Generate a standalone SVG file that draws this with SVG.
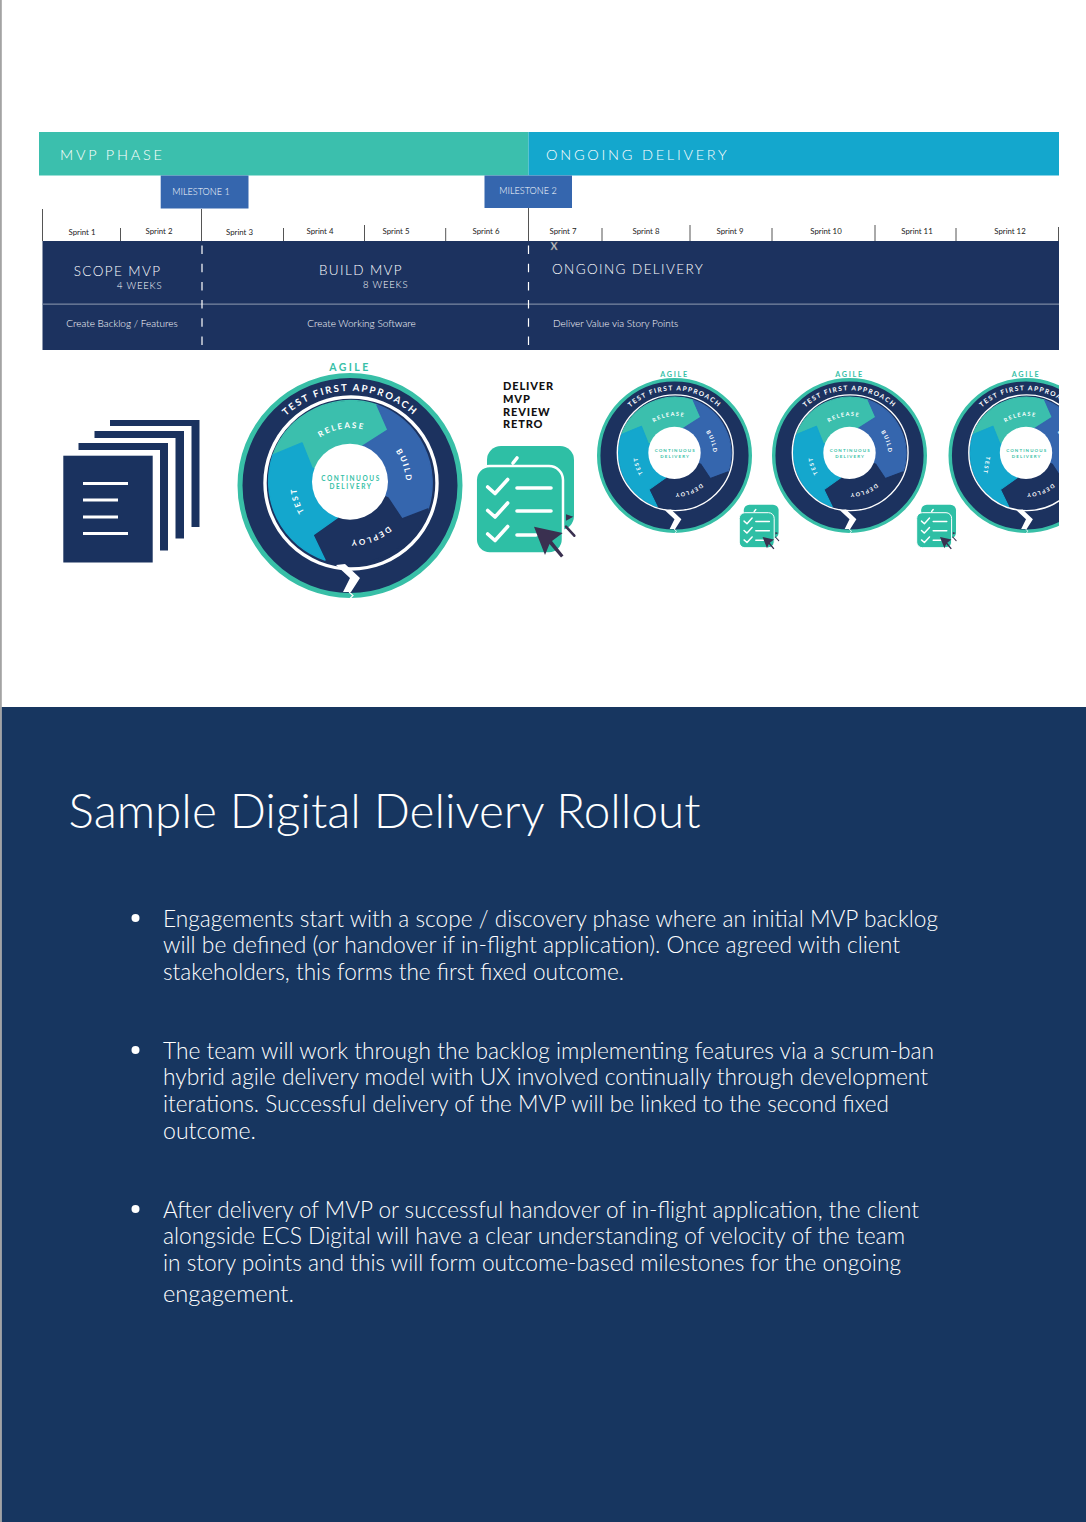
<svg xmlns="http://www.w3.org/2000/svg" width="1086" height="1522" viewBox="0 0 1086 1522">
<style>
text{font-family:"Lato","Open Sans","Liberation Sans",sans-serif}
.sp{font-size:7.8px;fill:#222;text-anchor:middle}
.tick{stroke:#555;stroke-width:1}
.dash{stroke:#fff;stroke-width:1.2;stroke-dasharray:8.5 9.7}
.hd{fill:#fff;font-size:13.5px;letter-spacing:1.4px;font-weight:300}
.sub{fill:#fff;font-size:9.5px;letter-spacing:.8px;font-weight:300}
.row{fill:#fff;font-size:10px;font-weight:300}
.ms{fill:#fff;font-size:9.1px;text-anchor:middle;font-weight:300}
.ag{fill:#38bfa7;font-size:10.5px;font-weight:700;letter-spacing:2.4px;text-anchor:middle}
.arc{fill:#fff;font-size:9.6px;font-weight:700;letter-spacing:1.95px;text-anchor:middle}
.seg{fill:#fff;font-size:8px;font-weight:700;letter-spacing:1.9px;text-anchor:middle}
.cd{fill:#38bfa7;font-size:6.5px;font-weight:700;letter-spacing:1.6px;text-anchor:middle}
.dv{fill:#111;font-size:11px;font-weight:900;letter-spacing:.85px}
.body{fill:#fff;font-size:23px;font-weight:300}
.ck{fill:none;stroke:#fff;stroke-width:3.6;stroke-linecap:round;stroke-linejoin:round}
.s{stroke-width:1.5;stroke-linejoin:round}
</style>
<defs>
<path id="pArc" d="M-94.6-8.3A95 95 0 0 1 94.6-8.3"/>
<path id="pRel" d="M-46.6-30A55 55 0 0 1 36.4-44.6"/>
<path id="pBld" d="M30.1-49.1A55 55 0 0 1 52 18.1"/>
<path id="pDep" d="M50.4 26A57 57 0 0 1-18.5 51.1"/>
<path id="pTst" d="M-28.1 44.1A55 55 0 0 1-50-23.1"/>
<g id="wheelArt">
<circle r="110" fill="#1c325f" stroke="#38bfa7" stroke-width="5"/>
<path class="s" d="M-77-30.5A83 83 0 0 1 27-80.5L38-55.5 13-39.5 0-4-38-17.5-48-42.5Z" fill="#3bbfad" stroke="#3bbfad"/>
<path class="s" d="M27-80.5A83 83 0 0 1 78 23.5L52 33.5 38 12.5 0-4 13-39.5 38-55.5Z" fill="#3566ae" stroke="#3566ae"/>
<path class="s" d="M78 23.5A83 83 0 0 1-25 74.5L-37 49.5-13 32.5 0-4 38 12.5 52 33.5Z" fill="#1c325f" stroke="#1c325f"/>
<path class="s" d="M-25 74.5A83 83 0 0 1-77-30.5L-48-42.5-38-17.5 0-4-13 32.5-37 49.5Z" fill="#14a7cd" stroke="#14a7cd"/>
<circle cy="-3.8" r="38" fill="#fff"/>
</g>
<path id="chev" d="M-14 79.5L-5 78.5 10 92.5 1 106.5-7 106.5 0 92.5Z" fill="#fff"/>
<path id="tip" d="M-1 106.5L3 110-1 114" fill="none" stroke="#fff" stroke-width="1.2"/>
<g id="check">
<rect x="487" y="446" width="87" height="84" rx="14" fill="#2ebfa5"/>
<path d="M513 463L517 458" class="ck"/>
<path d="M566 514.3L573.3 516.7 566 520.7Z" fill="#3a3050"/>
<path d="M566 526.7L574.3 535.7" stroke="#3a3050" stroke-width="2.6" stroke-linecap="round"/>
<rect x="475.7" y="466" width="87.3" height="87.5" rx="14" fill="#2ebfa5" stroke="#fff" stroke-width="2.5"/>
<path d="M487.7 487L495 493.5 507.7 479.5M487.7 510.5L495 517 507.7 503M487.7 534L495 540.5 507.7 526.5M517 488H551M517 511H551M517 535H536" class="ck"/>
<path d="M534 526.7L562.7 533 552 541 563.5 555.5 561 557.5 549.5 544 545 555Z" fill="#3a3050"/>
</g>
<clipPath id="clipR"><rect x="0" y="0" width="1059" height="707"/></clipPath>
</defs>
<rect width="1086" height="1522" fill="#fff"/>
<rect x="0" y="0" width="1.8" height="1522" fill="#a3a3a3"/>
<rect x="1.8" y="707" width="1084.2" height="815" fill="#173660"/>

<g id="phase-mvp"><rect x="39" y="132" width="489.5" height="43.5" fill="#3bbfad"/><text x="60" y="160" fill="#fff" font-size="14.5" letter-spacing="2.8" font-weight="300">MVP PHASE</text></g>
<g id="phase-ongoing"><rect x="528.5" y="132" width="530.5" height="43.5" fill="#14a7cd"/><text x="546" y="160" fill="#fff" font-size="14.5" letter-spacing="2.75" font-weight="300">ONGOING DELIVERY</text></g>
<g id="milestone-1"><rect x="160.7" y="175.5" width="87.8" height="33" fill="#3566ae"/><text x="201" y="195" class="ms">MILESTONE 1</text></g>
<g id="milestone-2"><rect x="484.5" y="175.5" width="87.5" height="32.5" fill="#3566ae"/><text x="528" y="194" class="ms">MILESTONE 2</text></g>

<g id="sprints">
<path class="tick" d="M42.5 209V241M201.5 209V241M528.5 208V241M120.5 228V241M283.5 228V241M364.5 225V241M445.7 228V241M602 228V241M690 225V241M772 228V241M875 225V241M956 228V241M1058.5 227V241"/>
<text x="82" y="234.5" class="sp">Sprint 1</text><text x="159" y="234" class="sp">Sprint 2</text><text x="239.5" y="234.5" class="sp">Sprint 3</text><text x="320" y="234" class="sp">Sprint 4</text><text x="396" y="234" class="sp">Sprint 5</text><text x="486" y="234" class="sp">Sprint 6</text><text x="563" y="234" class="sp">Sprint 7</text><text x="646" y="234" class="sp">Sprint 8</text><text x="730" y="234" class="sp">Sprint 9</text><text x="826" y="234" class="sp">Sprint 10</text><text x="917" y="234" class="sp">Sprint 11</text><text x="1010" y="234" class="sp">Sprint 12</text>
</g>

<g id="band">
<rect x="42.5" y="241" width="1016.5" height="109" fill="#1c325f"/>
<rect x="42.5" y="303.5" width="1016.5" height="1.3" fill="#76849f"/>
<path class="dash" d="M202 245.5V345M528.5 245.5V345"/>
<text x="554" y="249.5" font-size="10.5" font-weight="700" text-anchor="middle" fill="#d8dce4" stroke="#555" stroke-width=".4">X</text>
<text x="117.5" y="276" class="hd" text-anchor="middle">SCOPE MVP</text>
<text x="117" y="289" class="sub">4 WEEKS</text>
<text x="361" y="275" class="hd" text-anchor="middle">BUILD MVP</text>
<text x="363" y="288" class="sub">8 WEEKS</text>
<text x="552" y="274" class="hd">ONGOING DELIVERY</text>
<text x="122" y="327" class="row" text-anchor="middle">Create Backlog / Features</text>
<text x="361.5" y="327" class="row" text-anchor="middle">Create Working Software</text>
<text x="553" y="327" class="row">Deliver Value via Story Points</text>
</g>

<g id="documents" fill="#1a325f">
<path d="M110 420H199.5V527H191.5V426H110Z"/>
<path d="M94.5 431H184V538.5H175.5V438H94.5Z"/>
<path d="M78.5 443H168V550.5H160V450H78.5Z"/>
<rect x="63.3" y="455.7" width="89.4" height="106.8"/>
<path d="M83 483.5H128M83 500H118M83 517H118M83 533.5H128" stroke="#fff" stroke-width="3"/>
</g>

<g id="wheel-1" transform="translate(350 485.5)">
<use href="#wheelArt"/>
<circle cx="1" cy="-2.5" r="86" fill="none" stroke="#fff" stroke-width="3.4"/>
<use href="#chev"/><use href="#tip"/>
<text x="0" y="-114.5" class="ag">AGILE</text>
<text class="arc"><textPath href="#pArc" startOffset="50%">TEST FIRST APPROACH</textPath></text>
<text class="seg"><textPath href="#pRel" startOffset="50%">RELEASE</textPath></text>
<text class="seg"><textPath href="#pBld" startOffset="50%">BUILD</textPath></text>
<text class="seg"><textPath href="#pDep" startOffset="50%">DEPLOY</textPath></text>
<text class="seg"><textPath href="#pTst" startOffset="50%">TEST</textPath></text>
<text x="1" y="-4.5" class="cd">CONTINUOUS</text><text x="1" y="3.5" class="cd">DELIVERY</text>
</g>

<g id="deliver-label">
<text x="503" y="390" class="dv">DELIVER</text><text x="503" y="402.5" class="dv">MVP</text><text x="503" y="415.5" class="dv">REVIEW</text><text x="503" y="428" class="dv">RETRO</text>
</g>
<g id="checklist-1"><use href="#check"/></g>

<g id="wheel-2" transform="translate(674.5 455.5) scale(.689)">
<use href="#wheelArt"/>
<circle cx="1" cy="-4" r="84" fill="none" stroke="#fff" stroke-width="2"/>
<use href="#chev"/><use href="#tip"/>
<text x="0" y="-114.5" class="ag">AGILE</text>
<text class="arc"><textPath href="#pArc" startOffset="50%">TEST FIRST APPROACH</textPath></text>
<text class="seg"><textPath href="#pRel" startOffset="50%">RELEASE</textPath></text>
<text class="seg"><textPath href="#pBld" startOffset="50%">BUILD</textPath></text>
<text class="seg"><textPath href="#pDep" startOffset="50%">DEPLOY</textPath></text>
<text class="seg"><textPath href="#pTst" startOffset="50%">TEST</textPath></text>
<text x="1" y="-4.5" class="cd">CONTINUOUS</text><text x="1" y="3.5" class="cd">DELIVERY</text>
</g>
<g id="checklist-2" transform="translate(549 326.3) scale(.4)"><use href="#check"/></g>

<g id="wheel-3" transform="translate(849.5 455.5) scale(.689)">
<use href="#wheelArt"/>
<circle cx="1" cy="-4" r="84" fill="none" stroke="#fff" stroke-width="2"/>
<use href="#chev"/><use href="#tip"/>
<text x="0" y="-114.5" class="ag">AGILE</text>
<text class="arc"><textPath href="#pArc" startOffset="50%">TEST FIRST APPROACH</textPath></text>
<text class="seg"><textPath href="#pRel" startOffset="50%">RELEASE</textPath></text>
<text class="seg"><textPath href="#pBld" startOffset="50%">BUILD</textPath></text>
<text class="seg"><textPath href="#pDep" startOffset="50%">DEPLOY</textPath></text>
<text class="seg"><textPath href="#pTst" startOffset="50%">TEST</textPath></text>
<text x="1" y="-4.5" class="cd">CONTINUOUS</text><text x="1" y="3.5" class="cd">DELIVERY</text>
</g>
<g id="checklist-3" transform="translate(726.4 326.3) scale(.4)"><use href="#check"/></g>

<g clip-path="url(#clipR)">
<g id="wheel-4" transform="translate(1026 455.5) scale(.689)">
<use href="#wheelArt"/>
<circle cx="1" cy="-4" r="84" fill="none" stroke="#fff" stroke-width="2"/>
<use href="#chev"/><use href="#tip"/>
<text x="0" y="-114.5" class="ag">AGILE</text>
<text class="arc"><textPath href="#pArc" startOffset="50%">TEST FIRST APPROACH</textPath></text>
<text class="seg"><textPath href="#pRel" startOffset="50%">RELEASE</textPath></text>
<text class="seg"><textPath href="#pBld" startOffset="50%">BUILD</textPath></text>
<text class="seg"><textPath href="#pDep" startOffset="50%">DEPLOY</textPath></text>
<text class="seg" transform="translate(-60 14) rotate(100)">TEST</text>
<text x="1" y="-4.5" class="cd">CONTINUOUS</text><text x="1" y="3.5" class="cd">DELIVERY</text>
</g>
</g>

<g id="title"><text x="68.5" y="828" fill="#fff" font-size="46.5" font-weight="300" textLength="632" lengthAdjust="spacingAndGlyphs">Sample Digital Delivery Rollout</text></g>
<g id="bullets">
<circle cx="135.5" cy="918" r="4" fill="#fff"/><circle cx="135.5" cy="1050" r="4" fill="#fff"/><circle cx="135.5" cy="1209" r="4" fill="#fff"/>
<text x="163" y="926.5" class="body" textLength="775" lengthAdjust="spacingAndGlyphs">Engagements start with a scope / discovery phase where an initial MVP backlog</text>
<text x="163" y="953" class="body" textLength="737" lengthAdjust="spacingAndGlyphs">will be defined (or handover if in-flight application). Once agreed with client</text>
<text x="163" y="979.5" class="body" textLength="461" lengthAdjust="spacingAndGlyphs">stakeholders, this forms the first fixed outcome.</text>
<text x="163" y="1058.5" class="body" textLength="771" lengthAdjust="spacingAndGlyphs">The team will work through the backlog implementing features via a scrum-ban</text>
<text x="163" y="1085" class="body" textLength="765" lengthAdjust="spacingAndGlyphs">hybrid agile delivery model with UX involved continually through development</text>
<text x="163" y="1111.5" class="body" textLength="726" lengthAdjust="spacingAndGlyphs">iterations. Successful delivery of the MVP will be linked to the second fixed</text>
<text x="163" y="1138.5" class="body" textLength="93" lengthAdjust="spacingAndGlyphs">outcome.</text>
<text x="163" y="1217.5" class="body" textLength="756" lengthAdjust="spacingAndGlyphs">After delivery of MVP or successful handover of in-flight application, the client</text>
<text x="163" y="1243.5" class="body" textLength="742" lengthAdjust="spacingAndGlyphs">alongside ECS Digital will have a clear understanding of velocity of the team</text>
<text x="163" y="1270.5" class="body" textLength="738" lengthAdjust="spacingAndGlyphs">in story points and this will form outcome-based milestones for the ongoing</text>
<text x="163" y="1301.5" class="body" textLength="131" lengthAdjust="spacingAndGlyphs">engagement.</text>
</g>
</svg>
